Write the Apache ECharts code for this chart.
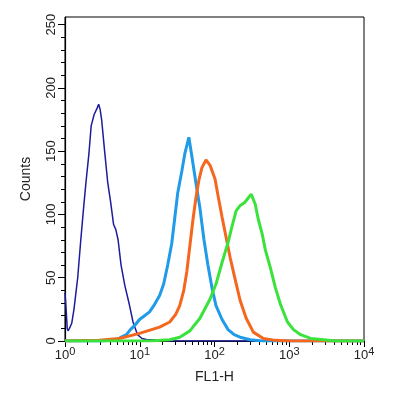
<!DOCTYPE html>
<html>
<head>
<meta charset="utf-8">
<script src="https://cdn.jsdelivr.net/npm/echarts@6/dist/echarts.min.js"></script>
<style>
  html, body { margin: 0; padding: 0; background: #fff; }
  #chart { width: 400px; height: 397px; }
</style>
</head>
<body>
<div id="chart"></div>
<script>
  // FL1-H positions are stored as log10 values (axis runs 10^0 .. 10^4)
  var navyX = [0, 0.01, 0.02, 0.03, 0.04, 0.06, 0.09, 0.12, 0.15, 0.17, 0.21, 0.25, 0.28, 0.32, 0.35, 0.39, 0.43, 0.45, 0.47, 0.49, 0.53, 0.57, 0.61, 0.65, 0.68, 0.71, 0.75, 0.80, 0.86, 0.91, 0.97, 1.03, 1.10, 1.20, 1.30, 1.40, 4.0];
  var navyY = [38, 30, 20, 10, 8, 10, 14, 25, 40, 50, 79, 106, 125, 148, 170, 179, 184, 187, 183, 175, 150, 126, 110, 92, 88, 80, 60, 44, 29, 15, 5, 2, 1, 1, 0.5, 0, 0];

  var blueX = [0, 0.50, 0.593, 0.687, 0.754, 0.822, 0.875, 0.943, 0.997, 1.064, 1.131, 1.199, 1.266, 1.320, 1.374, 1.428, 1.468, 1.508, 1.562, 1.603, 1.657, 1.697, 1.751, 1.805, 1.859, 1.912, 1.966, 2.020, 2.101, 2.182, 2.263, 2.343, 2.478, 2.640, 4.0];
  var blueY = [0, 0, 0.5, 1, 3, 5, 9, 13, 17, 20, 23, 29, 36, 45, 60, 77, 97, 117, 134, 148, 161, 146, 125, 105, 80, 60, 42, 28, 17, 9, 5, 3, 1, 0, 0];

  var orangeX = [0, 0.458, 0.727, 0.997, 1.266, 1.401, 1.481, 1.535, 1.589, 1.630, 1.670, 1.710, 1.751, 1.791, 1.832, 1.886, 1.939, 2.007, 2.047, 2.101, 2.155, 2.209, 2.263, 2.343, 2.424, 2.519, 2.653, 2.815, 3.017, 4.0];
  var orangeY = [0, 0.5, 2, 6, 11, 15, 21, 28, 40, 55, 75, 95, 113, 127, 137, 143, 139, 128, 115, 98, 82, 66, 52, 32, 18, 7, 2, 0.5, 0, 0];

  var greenX = [0, 1.131, 1.401, 1.535, 1.670, 1.805, 1.939, 2.020, 2.101, 2.182, 2.236, 2.290, 2.343, 2.397, 2.438, 2.492, 2.545, 2.586, 2.640, 2.680, 2.747, 2.815, 2.882, 2.976, 3.057, 3.152, 3.286, 3.461, 3.623, 4.0];
  var greenY = [0, 0, 1, 3, 8, 18, 33, 45, 62, 78, 91, 103, 107, 109, 112, 116, 108, 96, 84, 72, 58, 42, 29, 15, 9, 5, 2, 1, 0, 0];

  var decades = [0, 1, 2, 3, 4];
  var countTicks = [0, 50, 100, 150, 200, 250];
  var countMinor = [10, 20, 30, 40, 60, 70, 80, 90, 110, 120, 130, 140, 160, 170, 180, 190, 210, 220, 230, 240];

  var decadeMinor = [];
  for (var d = 0; d < 4; d++) {
    for (var k = 2; k <= 9; k++) decadeMinor.push(d + Math.log10(k));
  }

  function pairs(xs, ys) {
    return xs.map(function (x, i) { return [x, ys[i]]; });
  }

  var font = 'Liberation Sans, Arial, Helvetica, sans-serif';
  var chart = echarts.init(document.getElementById('chart'));
  chart.setOption({
    animation: false,
    grid: {
      left: 65, right: 36, top: 17, bottom: 56,
      show: true, borderColor: '#000', borderWidth: 1
    },
    xAxis: [
      {
        type: 'value', min: 0, max: 4,
        name: 'FL1-H', nameLocation: 'middle', nameGap: 29,
        nameTextStyle: { fontFamily: font, fontSize: 14, color: '#222' },
        axisLine: { lineStyle: { color: '#000', width: 1.2 } },
        axisTick: { customValues: decades, length: 6, lineStyle: { color: '#000' } },
        axisLabel: {
          customValues: decades, margin: 5, color: '#222',
          formatter: function (v) { return '{b|10}{s|' + v + '}'; },
          rich: {
            b: { fontFamily: font, fontSize: 13, color: '#222' },
            s: { fontFamily: font, fontSize: 11, color: '#222', padding: [0, 0, 8, 0] }
          }
        },
        splitLine: { show: false }
      },
      {
        type: 'value', min: 0, max: 4, position: 'bottom',
        axisLine: { show: false },
        axisTick: { customValues: decadeMinor, length: 4, lineStyle: { color: '#000' } },
        axisLabel: { show: false },
        splitLine: { show: false }
      }
    ],
    yAxis: [
      {
        type: 'value', min: 0, max: 256,
        name: 'Counts', nameLocation: 'middle', nameGap: 32,
        nameTextStyle: { fontFamily: font, fontSize: 14, color: '#222' },
        axisLine: { show: true, lineStyle: { color: '#000', width: 1.2 } },
        axisTick: { show: true, customValues: countTicks, length: 7, lineStyle: { color: '#000' } },
        axisLabel: { customValues: countTicks, rotate: 90, margin: 7, fontFamily: font, fontSize: 13, color: '#222' },
        splitLine: { show: false }
      },
      {
        type: 'value', min: 0, max: 256, position: 'left',
        axisLine: { show: false },
        axisTick: { show: true, customValues: countMinor, length: 4, lineStyle: { color: '#000' } },
        axisLabel: { show: false },
        splitLine: { show: false }
      }
    ],
    series: [
      { type: 'line', showSymbol: false, data: pairs(navyX, navyY), lineStyle: { color: '#1c1c9c', width: 1.5 } },
      { type: 'line', showSymbol: false, data: pairs(blueX, blueY), lineStyle: { color: '#1f9be8', width: 3 } },
      { type: 'line', showSymbol: false, data: pairs(orangeX, orangeY), lineStyle: { color: '#f5661e', width: 3 } },
      { type: 'line', showSymbol: false, data: pairs(greenX, greenY), lineStyle: { color: '#3ce23c', width: 3 } }
    ]
  });
</script>
</body>
</html>
